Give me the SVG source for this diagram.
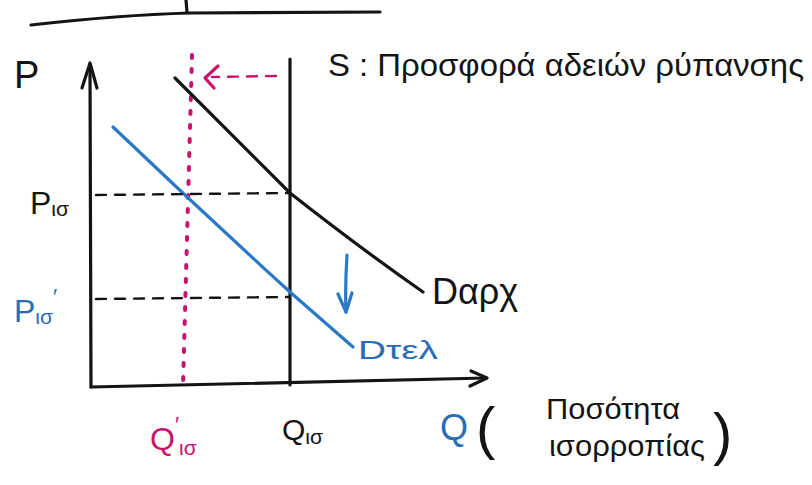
<svg xmlns="http://www.w3.org/2000/svg" width="812" height="485" viewBox="0 0 812 485">
<style>
.ink{fill:none;stroke:#141414;stroke-width:3.2;stroke-linecap:round;stroke-linejoin:round}
.blue{fill:none;stroke:#2a78c8;stroke-width:3.2;stroke-linecap:round;stroke-linejoin:round}
.mag{fill:none;stroke:#c8136e;stroke-width:3.2;stroke-linecap:round;stroke-linejoin:round}
.dash{stroke-dasharray:10 9;stroke-width:2.4}
.dot{stroke-dasharray:3 11;stroke-width:4}
text{font-family:"Liberation Sans","DejaVu Sans",sans-serif;fill:#141414}
.tb{fill:#2a6db5}
.tm{fill:#c8136e}
</style>
<rect width="812" height="485" fill="#ffffff"/>
<g id="topline">
<path class="ink" d="M31 25 Q120 15 190 13 L380 12" />
<path class="ink" d="M186 0 L187 12" />
</g>
<g id="connectors">
<path class="ink" d="M91 387 L90 66" />
<path class="ink" d="M82 88 L90 63 L97 88" />
<path class="ink" d="M91 387 Q300 383 486 378" />
<path class="ink" d="M471 371 L487 378 L470 386" />
<path class="ink" d="M290 59 L290 385" />
<path class="mag dot" d="M192 55 L183 385" />
<path class="mag dash" d="M276 76 L212 77" />
<path class="mag" d="M218 66 L205 78 L214 88" />
<path class="ink" d="M175 78 Q235 138 290 193 Q360 248 423 292" />
<path class="blue" d="M113 127 Q200 210 290 292 L353 347" />
<path class="ink dash" d="M96 195 L288 193" />
<path class="ink dash" d="M96 299 L288 297" />
<path class="blue" d="M347 255 Q345 285 346 312" />
<path class="blue" d="M338 294 L346 312 L352 293" />
</g>
<g id="label-P"><text x="14" y="88" font-size="38">P</text></g>
<g id="label-S"><text x="328" y="76" font-size="31" textLength="476" lengthAdjust="spacingAndGlyphs">S : Προσφορά αδειών ρύπανσης</text></g>
<g id="label-Pis"><text x="30" y="214" font-size="32">P<tspan font-size="21" dy="2">ισ</tspan></text></g>
<g id="label-Pis2"><text class="tb" x="14" y="322" font-size="32">P<tspan font-size="21" dy="2">ισ</tspan><tspan dy="-20" font-size="22">′</tspan></text></g>
<g id="label-Darx"><text x="432" y="304" font-size="36">Dαρχ</text></g>
<g id="label-Dtel"><text class="tb" x="358" y="359" font-size="26" textLength="80" lengthAdjust="spacingAndGlyphs">Dτελ</text></g>
<g id="label-Qis2"><text class="tm" x="150" y="450" font-size="32">Q<tspan font-size="22" dy="-18">′</tspan><tspan font-size="21" dy="23">ισ</tspan></text></g>
<g id="label-Qis"><text x="282" y="440" font-size="30">Q<tspan font-size="21" dy="4">ισ</tspan></text></g>
<g id="label-Q">
<text class="tb" x="440" y="440" font-size="36">Q</text>
<text x="476" y="448" font-size="58" font-weight="300">(</text>
<text x="546" y="419" font-size="30" textLength="134" lengthAdjust="spacingAndGlyphs">Ποσότητα</text>
<text x="549" y="456" font-size="30" textLength="156" lengthAdjust="spacingAndGlyphs">ισορροπίας</text>
<text x="713" y="454" font-size="58" font-weight="300">)</text>
</g>
</svg>
